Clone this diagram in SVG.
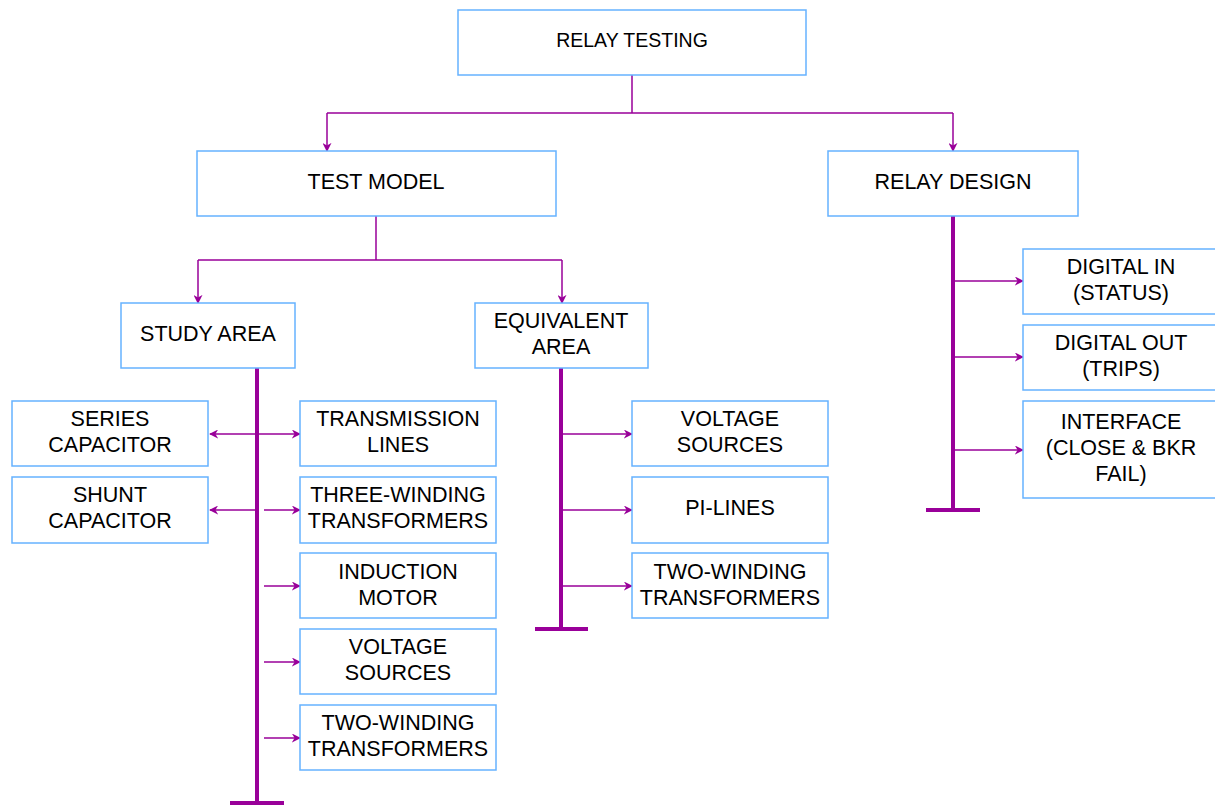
<svg xmlns="http://www.w3.org/2000/svg" width="1215" height="808" viewBox="0 0 1215 808">
<style>
.box{fill:#fff;stroke:#66b2ff;stroke-width:1.5}
.t{font-family:"Liberation Sans",Arial,sans-serif;font-size:21.5px;fill:#000;text-anchor:middle}
.c{fill:none;stroke:#990099;stroke-width:1.5}
.bus{fill:none;stroke:#990099;stroke-width:4}
</style>
<defs>
<marker id="ah" viewBox="0 0 10 10" refX="9" refY="5" markerWidth="9" markerHeight="9" orient="auto-start-reverse" markerUnits="userSpaceOnUse">
<path d="M0,0 L10,5 L0,10 L3,5 Z" fill="#990099"/>
</marker>
</defs>
<g id="connectors">
<path class="c" d="M632,75 V113 M327,113 H953"/>
<path class="c" d="M327,113 V151" marker-end="url(#ah)"/>
<path class="c" d="M953,113 V151" marker-end="url(#ah)"/>
<path class="c" d="M376,216 V260 M198,260 H562"/>
<path class="c" d="M198,260 V303" marker-end="url(#ah)"/>
<path class="c" d="M562,260 V303" marker-end="url(#ah)"/>
<path class="bus" d="M257,368 V803 M230,803 H284"/>
<path class="c" d="M210,434 H300" marker-start="url(#ah)" marker-end="url(#ah)"/>
<path class="c" d="M210,510 H255" marker-start="url(#ah)"/>
<path class="c" d="M264,510 H300" marker-end="url(#ah)"/>
<path class="c" d="M264,586 H300" marker-end="url(#ah)"/>
<path class="c" d="M264,662 H300" marker-end="url(#ah)"/>
<path class="c" d="M264,738 H300" marker-end="url(#ah)"/>
<path class="bus" d="M561,368 V629 M535,629 H588"/>
<path class="c" d="M563,434 H632" marker-end="url(#ah)"/>
<path class="c" d="M563,510 H632" marker-end="url(#ah)"/>
<path class="c" d="M563,586 H632" marker-end="url(#ah)"/>
<path class="bus" d="M953,216 V510 M926,510 H980"/>
<path class="c" d="M955,281 H1023" marker-end="url(#ah)"/>
<path class="c" d="M955,357 H1023" marker-end="url(#ah)"/>
<path class="c" d="M955,450 H1023" marker-end="url(#ah)"/>
</g>
<g id="relay-testing"><rect class="box" x="458" y="10" width="348" height="65"/><text class="t" x="632" y="47" style="font-size:19.5px">RELAY TESTING</text></g>
<g id="test-model"><rect class="box" x="197" y="151" width="359" height="65"/><text class="t" x="376" y="189">TEST MODEL</text></g>
<g id="relay-design"><rect class="box" x="828" y="151" width="250" height="65"/><text class="t" x="953" y="189">RELAY DESIGN</text></g>
<g id="study-area"><rect class="box" x="121" y="303" width="174" height="65"/><text class="t" x="208" y="341">STUDY AREA</text></g>
<g id="equivalent-area"><rect class="box" x="475" y="303" width="173" height="65"/><text class="t" x="561" y="328">EQUIVALENT</text><text class="t" x="561" y="354">AREA</text></g>
<g id="series-capacitor"><rect class="box" x="12" y="401" width="196" height="65"/><text class="t" x="110" y="426">SERIES</text><text class="t" x="110" y="452">CAPACITOR</text></g>
<g id="shunt-capacitor"><rect class="box" x="12" y="477" width="196" height="66"/><text class="t" x="110" y="502">SHUNT</text><text class="t" x="110" y="528">CAPACITOR</text></g>
<g id="transmission-lines"><rect class="box" x="300" y="401" width="196" height="65"/><text class="t" x="398" y="426">TRANSMISSION</text><text class="t" x="398" y="452">LINES</text></g>
<g id="three-winding"><rect class="box" x="300" y="477" width="196" height="66"/><text class="t" x="398" y="502">THREE-WINDING</text><text class="t" x="398" y="528">TRANSFORMERS</text></g>
<g id="induction-motor"><rect class="box" x="300" y="553" width="196" height="65"/><text class="t" x="398" y="579">INDUCTION</text><text class="t" x="398" y="605">MOTOR</text></g>
<g id="voltage-sources-1"><rect class="box" x="300" y="629" width="196" height="65"/><text class="t" x="398" y="654">VOLTAGE</text><text class="t" x="398" y="680">SOURCES</text></g>
<g id="two-winding-1"><rect class="box" x="300" y="705" width="196" height="65"/><text class="t" x="398" y="730">TWO-WINDING</text><text class="t" x="398" y="756">TRANSFORMERS</text></g>
<g id="voltage-sources-2"><rect class="box" x="632" y="401" width="196" height="65"/><text class="t" x="730" y="426">VOLTAGE</text><text class="t" x="730" y="452">SOURCES</text></g>
<g id="pi-lines"><rect class="box" x="632" y="477" width="196" height="66"/><text class="t" x="730" y="515">PI-LINES</text></g>
<g id="two-winding-2"><rect class="box" x="632" y="553" width="196" height="65"/><text class="t" x="730" y="579">TWO-WINDING</text><text class="t" x="730" y="605">TRANSFORMERS</text></g>
<g id="digital-in"><rect class="box" x="1023" y="249" width="194" height="65"/><text class="t" x="1121" y="274">DIGITAL IN</text><text class="t" x="1121" y="300">(STATUS)</text></g>
<g id="digital-out"><rect class="box" x="1023" y="325" width="194" height="65"/><text class="t" x="1121" y="350">DIGITAL OUT</text><text class="t" x="1121" y="376">(TRIPS)</text></g>
<g id="interface"><rect class="box" x="1023" y="401" width="194" height="97"/><text class="t" x="1121" y="429">INTERFACE</text><text class="t" x="1121" y="455">(CLOSE &amp; BKR</text><text class="t" x="1121" y="481">FAIL)</text></g>
</svg>
